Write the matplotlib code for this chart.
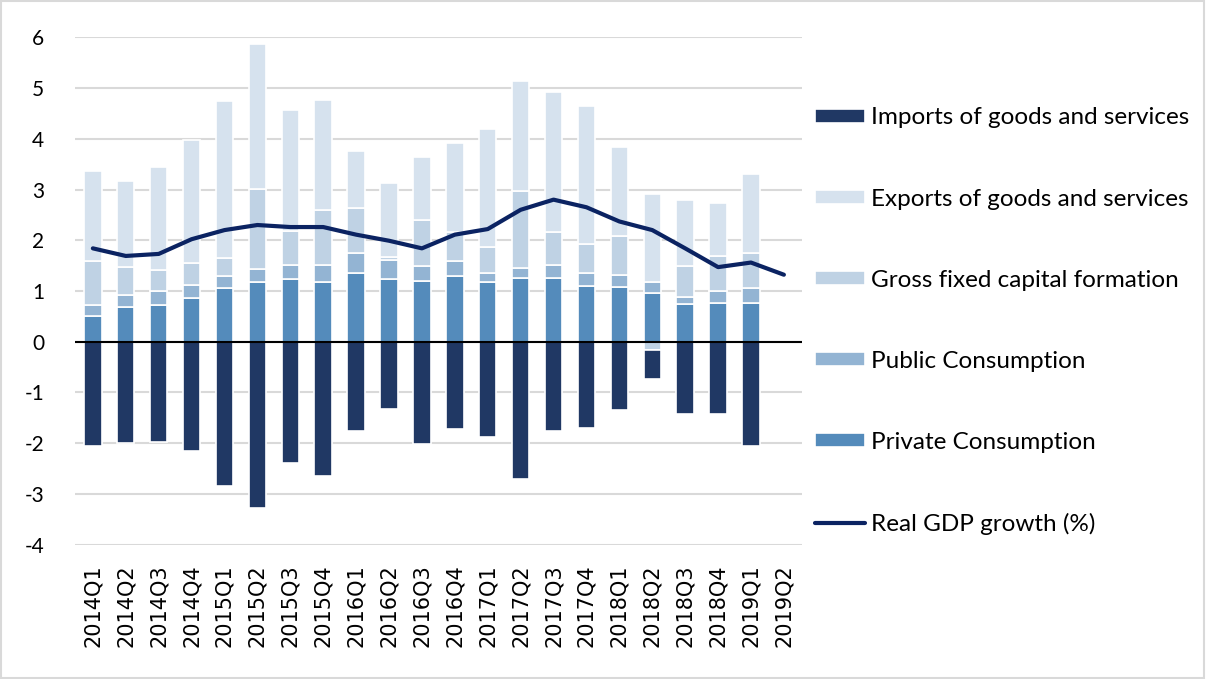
import matplotlib
matplotlib.use("Agg")
import matplotlib.pyplot as plt
import numpy as np
from matplotlib.patches import Rectangle

quarters = ["2014Q1", "2014Q2", "2014Q3", "2014Q4", "2015Q1", "2015Q2", "2015Q3", "2015Q4",
            "2016Q1", "2016Q2", "2016Q3", "2016Q4", "2017Q1", "2017Q2", "2017Q3", "2017Q4",
            "2018Q1", "2018Q2", "2018Q3", "2018Q4", "2019Q1", "2019Q2"]

private_cons = [0.51, 0.68, 0.73, 0.87, 1.05, 1.18, 1.23, 1.17, 1.35, 1.24, 1.20, 1.30,
                1.18, 1.26, 1.25, 1.10, 1.07, 0.95, 0.74, 0.77, 0.77, np.nan]
public_cons = [0.21, 0.24, 0.26, 0.24, 0.25, 0.25, 0.28, 0.34, 0.39, 0.38, 0.30, 0.30,
               0.17, 0.19, 0.26, 0.25, 0.24, 0.23, 0.15, 0.23, 0.28, np.nan]
gfcf = [0.87, 0.56, 0.43, 0.45, 0.35, 1.58, 0.68, 1.08, 0.90, 0.05, 0.89, 0.57,
        0.52, 1.52, 0.66, 0.58, 0.78, -0.17, 0.61, 0.69, 0.69, np.nan]
exports = [1.78, 1.69, 2.03, 2.42, 3.09, 2.85, 2.38, 2.17, 1.12, 1.46, 1.25, 1.75,
           2.33, 2.16, 2.76, 2.71, 1.75, 1.73, 1.30, 1.05, 1.57, np.nan]
imports = [-2.05, -1.99, -1.97, -2.16, -2.84, -3.28, -2.40, -2.64, -1.77, -1.33, -2.01, -1.72,
           -1.88, -2.71, -1.77, -1.70, -1.34, -0.57, -1.42, -1.42, -2.05, np.nan]
gdp_growth = [1.84, 1.69, 1.73, 2.02, 2.20, 2.30, 2.26, 2.26, 2.11, 1.99, 1.84, 2.11,
              2.22, 2.60, 2.80, 2.65, 2.37, 2.20, 1.84, 1.47, 1.56, 1.32]

c_imp = "#203864"
c_exp = "#d6e2ee"
c_gfcf = "#bfd2e4"
c_pub = "#93b4d3"
c_priv = "#548bbb"
c_line = "#0b2362"

plt.rcParams['font.family'] = ['Lato', 'DejaVu Sans']
plt.rcParams['axes.unicode_minus'] = False

fig = plt.figure(figsize=(12.06, 6.79), dpi=100)
ax = fig.add_axes([0.062, 0.198, 0.603, 0.747])

x = np.arange(len(quarters))
w = 0.53
ek = dict(edgecolor="white", linewidth=1.2)

comps = [("Private Consumption", private_cons, c_priv),
         ("Public Consumption", public_cons, c_pub),
         ("Gross fixed capital formation", gfcf, c_gfcf),
         ("Exports of goods and services", exports, c_exp),
         ("Imports of goods and services", imports, c_imp)]

pos_base = np.zeros(len(x))
neg_base = np.zeros(len(x))
handles = {}
for name, vals, col in comps:
    v = np.nan_to_num(np.array(vals, dtype=float))
    bottoms = np.where(v >= 0, pos_base, neg_base)
    b = ax.bar(x, v, w, bottom=bottoms, color=col, zorder=2, label=name, **ek)
    handles[name] = b
    pos_base = pos_base + np.where(v >= 0, v, 0)
    neg_base = neg_base + np.where(v < 0, v, 0)

ln, = ax.plot(x, gdp_growth, color=c_line, linewidth=3, zorder=3,
              label="Real GDP growth (%)", solid_capstyle="round")

ax.axhline(0, color="black", linewidth=1.5, zorder=2.5)
ax.set_ylim(-4, 6)
ax.set_xlim(-0.55, len(x) - 0.45)
ax.set_yticks(range(-4, 7))
ax.yaxis.grid(True, color="#d9d9d9", linewidth=1.5, zorder=0)
ax.set_axisbelow(True)
for s in ax.spines.values():
    s.set_visible(False)
ax.tick_params(axis="both", length=0)
ax.tick_params(axis="y", labelsize=15, pad=22)
ax.set_xticks(x)
ax.set_xticklabels(quarters, rotation=90, fontsize=15, family="DejaVu Sans")
ax.tick_params(axis="x", pad=14)

order = ["Imports of goods and services", "Exports of goods and services",
         "Gross fixed capital formation", "Public Consumption", "Private Consumption"]
hl = [handles[n] for n in order] + [ln]
ll = order + ["Real GDP growth (%)"]
leg = fig.legend(hl, ll, loc="upper left", bbox_to_anchor=(0.668, 0.856),
                 frameon=False, fontsize=17.5, handlelength=2.05, handleheight=0.5,
                 labelspacing=2.47, handletextpad=0.25, borderaxespad=0)

fig.patches.append(Rectangle((0.001, 0.001), 0.997, 0.997, transform=fig.transFigure,
                             fill=False, edgecolor="#d9d9d9", linewidth=1.5))

fig.savefig("out.png", dpi=100, facecolor="white")
